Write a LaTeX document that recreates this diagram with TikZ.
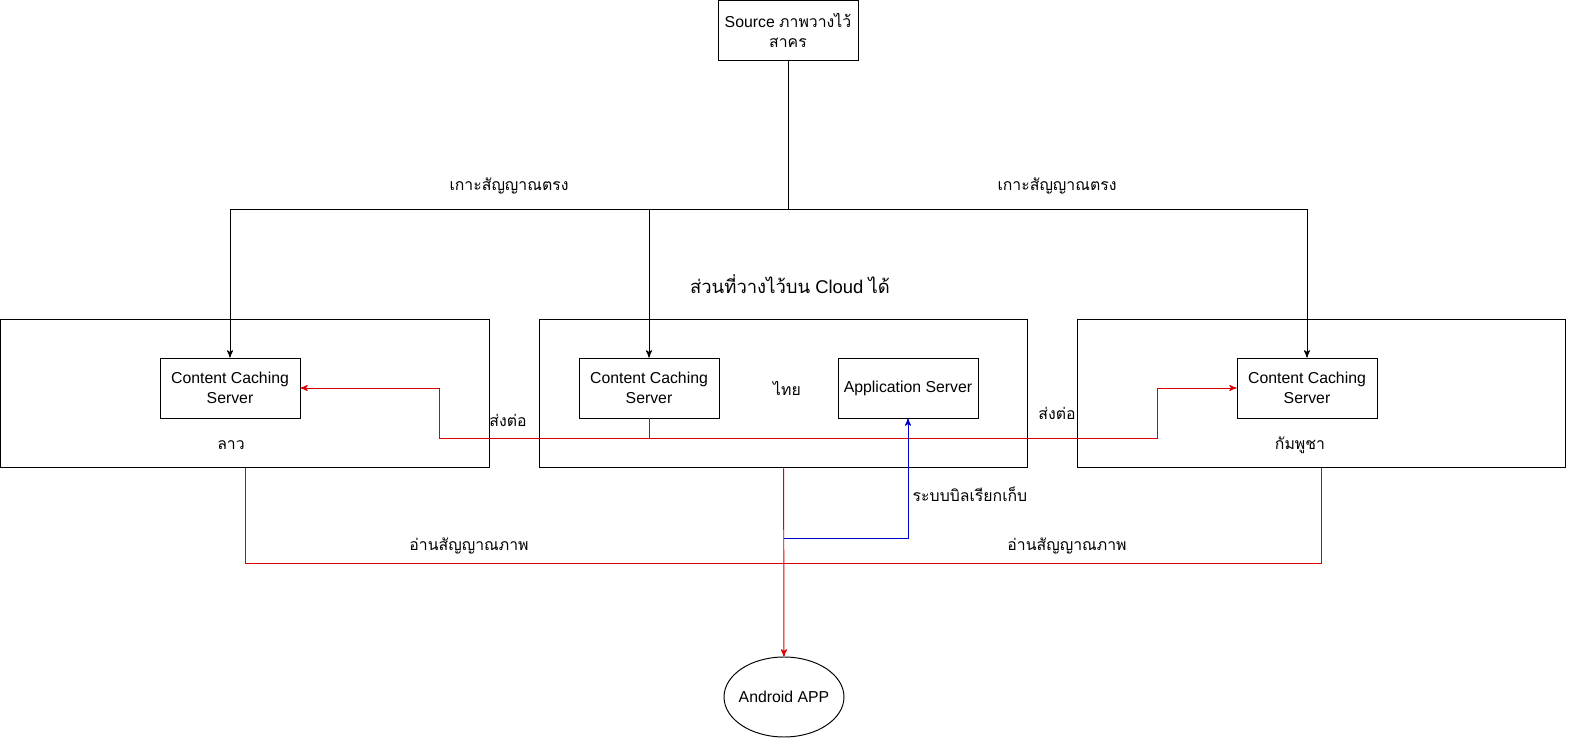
\documentclass[tikz,border=0pt]{standalone}
\usepackage{fontspec}
\setmainfont{Liberation Sans}
\newfontfamily\thaifont[Script=Thai]{Loma}
\usepackage{tikz}
\usetikzlibrary{shapes.geometric}
\usetikzlibrary{arrows}
\newcommand{\thai}[1]{{\thaifont #1}}
\tikzset{
  server node/.style={rectangle,draw,minimum width=2.8cm,minimum height=1.2cm,align=center,inner sep=1pt,font=\fontsize{9}{11.4}\selectfont},
  region node/.style={rectangle,draw,minimum width=9.78cm,minimum height=2.98cm},
  label node/.style={font=\fontsize{9}{11.4}\selectfont,inner sep=1pt},
  redline/.style={draw=red!85!black},
  blueline/.style={draw=blue!80!black}
}

\begin{document}
\begin{tikzpicture}[x=0.02cm,y=-0.02cm,->,>=stealth',line width=0.55pt]

        \useasboundingbox (0,0) rectangle (1572,742);

        % regions
        \node[region node] (lao) at (245,393.5) {};
        \node[region node] (th) at (783.5,393.5) {};
        \node[region node] (kh) at (1321.5,393.5) {};

        \node[server node] (src) at (788,30) {Source \thai{ภาพวางไว้}\\\thai{สาคร}};
        \node[server node] (lcc) at (230,388) {Content Caching\\Server};
        \node[server node] (tcc) at (649,388) {Content Caching\\Server};
        \node[server node] (app) at (908,388) {Application Server};
        \node[server node] (kcc) at (1307,388) {Content Caching\\Server};
        \node[ellipse,draw,inner xsep=-4pt,inner ysep=0pt,minimum width=2.4cm,minimum height=1.6cm,font=\fontsize{9}{11.4}\selectfont] (android) at (784,697) {Android APP};

        % texts
        \node[font=\fontsize{10.5}{13}\selectfont] (cloud) at (790,284) {\thai{ส่วนที่วางไว้บน} Cloud \thai{ได้}};
        \node[label node] (laoname) at (231,445) {\thai{ลาว}};
        \node[label node] (thname) at (787,388) {\thai{ไทย}};
        \node[label node] (khname) at (1300,445) {\thai{กัมพูชา}};
        \node[label node] (tap1) at (509,186) {\thai{เกาะสัญญาณตรง}};
        \node[label node] (tap2) at (1057,186) {\thai{เกาะสัญญาณตรง}};
        \node[label node] (fwd1) at (508,420) {\thai{ส่งต่อ}};
        \node[label node] (fwd2) at (1057,413) {\thai{ส่งต่อ}};
        \node[label node] (read1) at (469,546) {\thai{อ่านสัญญาณภาพ}};
        \node[label node] (read2) at (1067,546) {\thai{อ่านสัญญาณภาพ}};
        \node[label node] (bill) at (970,494) {\thai{ระบบบิลเรียกเก็บ}};

        \coordinate (fork) at (788,209);
        \coordinate (relay) at (649,438);
        \coordinate (billing) at (784,538);

        % source feed
        \draw[-] (src) -- (fork);
        \draw (fork) -| (lcc);
        \draw (fork) -| (tcc);
        \draw (fork) -| (kcc);

        % forwarding
        \draw[redline,-] (tcc) -- (relay);
        \draw[redline] (relay) -- ++(-210,0) |- (lcc);
        \draw[redline] (relay) -- ++(508,0) |- (kcc);

        % viewers
        \draw[redline,-] (lao.south) -- ++(0,95) -| (kh.south);
        \draw[redline] (th) -- (android);
        \draw[blueline] (billing) -| (app);

      \end{tikzpicture}
\end{document}
